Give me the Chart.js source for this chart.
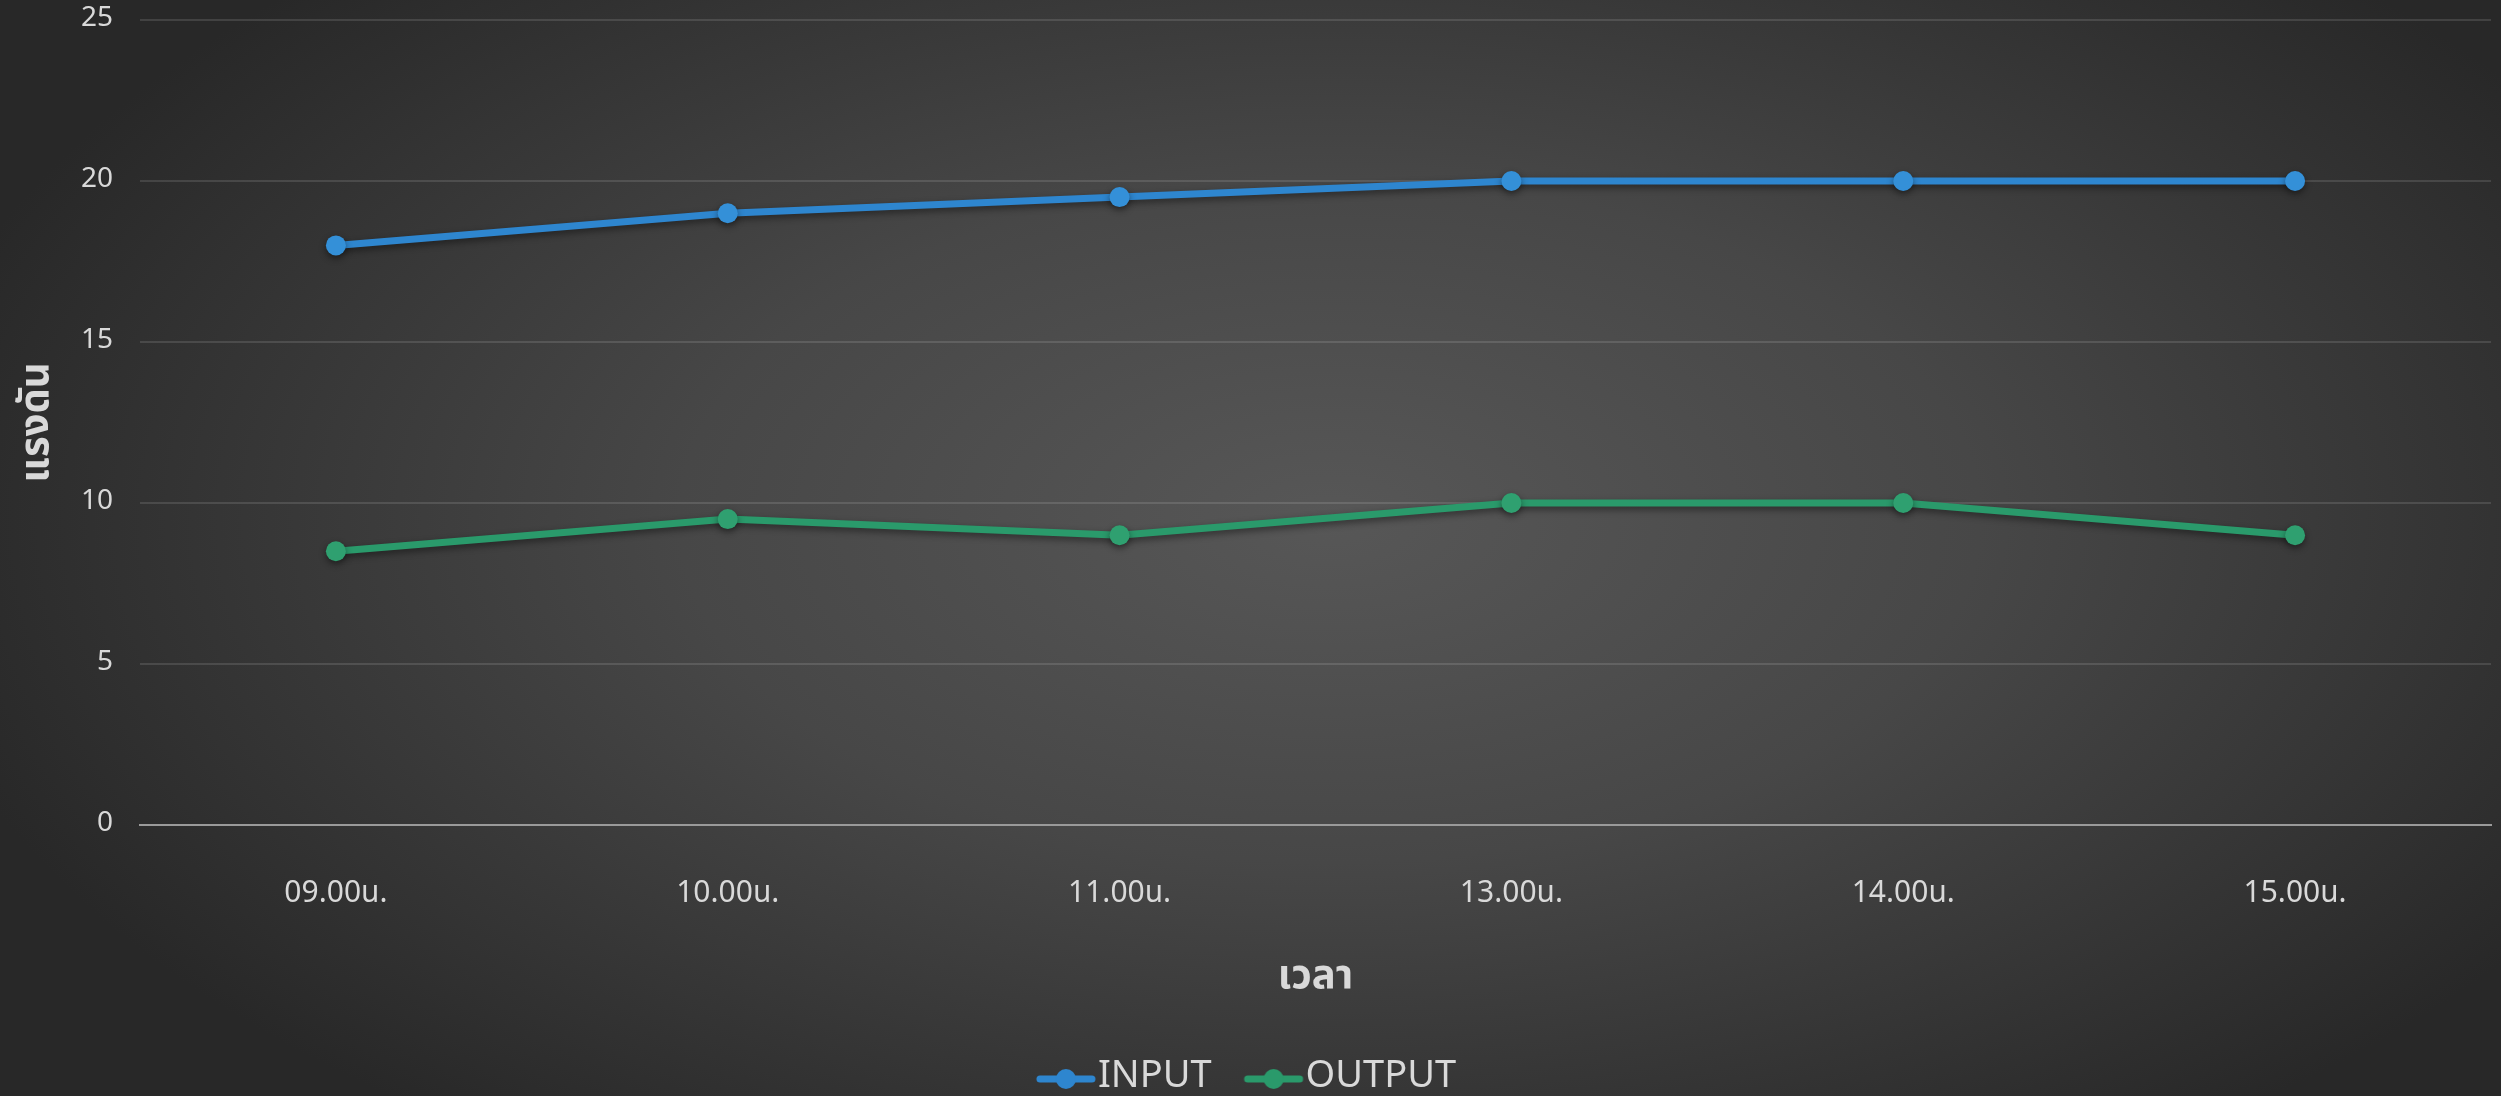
<!DOCTYPE html>
<html>
<head>
<meta charset="utf-8">
<script src="https://cdn.jsdelivr.net/npm/chart.js@4.4.1/dist/chart.umd.min.js"></script>
<style>
  html, body { margin: 0; padding: 0; background: #2b2b2b; }
  #wrap { width: 2501px; height: 1096px; position: relative; }
</style>
</head>
<body>
<div id="wrap"><canvas id="c" width="2501" height="1096"></canvas></div>
<script>
// Pressure readings through the day
const timeLabels = ['09.00น.', '10.00น.', '11.00น.', '13.00น.', '14.00น.', '15.00น.'];
const inputValues = [18, 19, 19.5, 20, 20, 20];
const outputValues = [8.5, 9.5, 9, 10, 10, 9];
const seriesNames = ['INPUT', 'OUTPUT'];
const yTicks = [0, 5, 10, 15, 20, 25];

const BLUE = '#2e86cf';
const GREEN = '#2a9a6b';
const FONT = "'Noto Sans Thai', 'Noto Sans', 'DejaVu Sans', sans-serif";

// legend swatch: a short line with a dot in the middle, drawn on the
// left part of a wider canvas so it sits flush against the label text
function swatch(color) {
  const cv = document.createElement('canvas');
  cv.width = 100; cv.height = 24;
  const g = cv.getContext('2d');
  const x0 = 29;
  g.strokeStyle = color; g.lineWidth = 7; g.lineCap = 'round';
  g.beginPath(); g.moveTo(x0 + 3, 12); g.lineTo(x0 + 55, 12); g.stroke();
  g.fillStyle = color;
  g.beginPath(); g.arc(x0 + 29, 12, 10, 0, Math.PI * 2); g.fill();
  return cv;
}
const swatches = [swatch(BLUE), swatch(GREEN)];

// dark radial backdrop, brighter toward the middle
const backdrop = {
  id: 'backdrop',
  beforeDraw(chart) {
    const { ctx, width, height } = chart;
    ctx.save();
    ctx.fillStyle = '#262626';
    ctx.fillRect(0, 0, width, height);
    const cx = 1330, cy = 520;
    ctx.translate(cx, cy);
    ctx.scale(1.9, 1);
    const g = ctx.createRadialGradient(0, 0, 0, 0, 0, 760);
    g.addColorStop(0, '#575757');
    g.addColorStop(0.45, '#474747');
    g.addColorStop(1, '#282828');
    ctx.fillStyle = g;
    ctx.fillRect(-cx / 1.9 - 10, -cy - 10, width / 1.9 + 20, height + 20);
    ctx.restore();
  }
};

// soft drop shadow under the series lines and markers
const lineShadow = {
  id: 'lineShadow',
  beforeDatasetsDraw(chart) {
    const ctx = chart.ctx;
    ctx.save();
    ctx.shadowColor = 'rgba(0,0,0,0.45)';
    ctx.shadowBlur = 7;
    ctx.shadowOffsetY = 3;
  },
  afterDatasetsDraw(chart) {
    chart.ctx.restore();
  }
};

new Chart(document.getElementById('c'), {
  type: 'line',
  data: {
    labels: timeLabels,
    datasets: [
      {
        label: seriesNames[0],
        data: inputValues,
        borderColor: BLUE,
        backgroundColor: '#3490d8',
        borderWidth: 7,
        pointRadius: 10,
        pointBorderWidth: 0,
        pointHoverRadius: 10,
        tension: 0
      },
      {
        label: seriesNames[1],
        data: outputValues,
        borderColor: GREEN,
        backgroundColor: '#2fa070',
        borderWidth: 7,
        pointRadius: 10,
        pointBorderWidth: 0,
        pointHoverRadius: 10,
        tension: 0
      }
    ]
  },
  options: {
    responsive: false,
    animation: false,
    events: [],
    layout: { padding: { top: 20, right: 8, left: 0, bottom: -12 } },
    plugins: {
      tooltip: { enabled: false },
      legend: {
        position: 'bottom',
        labels: {
          color: '#d9d9d9',
          font: { family: FONT, size: 38 },
          usePointStyle: true,
          pointStyleWidth: 42,
          boxHeight: 24,
          padding: 33,
          generateLabels(chart) {
            return chart.data.datasets.map((ds, i) => ({
              text: ds.label,
              fillStyle: ds.borderColor,
              strokeStyle: ds.borderColor,
              fontColor: '#d9d9d9',
              lineWidth: 0,
              pointStyle: swatches[i],
              datasetIndex: i,
              hidden: false
            }));
          }
        }
      }
    },
    scales: {
      x: {
        offset: true,
        grid: { display: false, drawTicks: false },
        border: { display: true, color: '#9a9a9a', width: 2 },
        ticks: {
          color: '#d9d9d9',
          font: { family: FONT, size: 30 },
          padding: 53,
          maxRotation: 0
        },
        title: {
          display: true,
          text: 'เวลา',
          color: '#d9d9d9',
          font: { family: FONT, size: 40, weight: 'bold' },
          padding: { top: -11, bottom: 23 }
        }
      },
      y: {
        min: 0,
        max: 25,
        afterBuildTicks(scale) {
          scale.ticks = yTicks.map(v => ({ value: v }));
        },
        afterFit(scale) {
          scale.width = 140;
          scale.paddingTop = 0;
          scale.paddingBottom = 0;
        },
        grid: {
          color: 'rgba(255,255,255,0.12)',
          lineWidth: 2,
          drawTicks: false
        },
        border: { display: false },
        ticks: {
          color: '#d9d9d9',
          font: { family: FONT, size: 28 },
          padding: 27
        },
        title: {
          display: true,
          text: 'แรงดัน',
          color: '#d9d9d9',
          font: { family: FONT, size: 40, weight: 'bold' },
          padding: { top: 16, bottom: 0 }
        }
      }
    }
  },
  plugins: [backdrop, lineShadow]
});
</script>
</body>
</html>
